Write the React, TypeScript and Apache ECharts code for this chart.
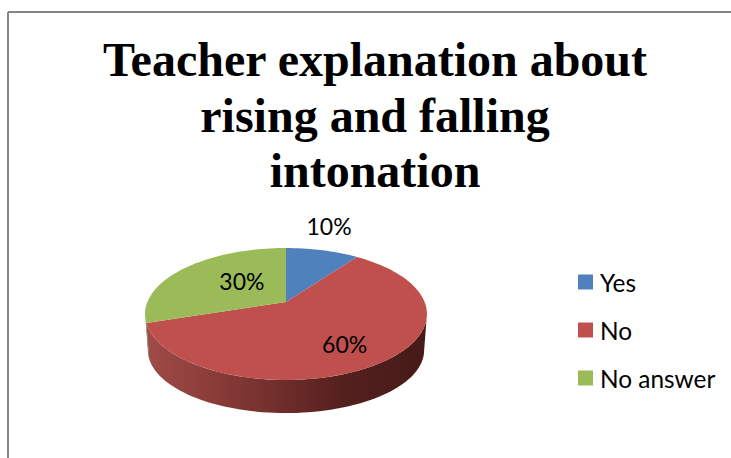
import React, { useEffect, useRef } from "react";
import * as echarts from "echarts";

const titleLines = ["Teacher explanation about", "rising and falling", "intonation"];
const categories = ["Yes", "No", "No answer"];
const percentValues = [10, 60, 30];
const sliceColors = ["#4f81bd", "#c0504d", "#9bbb59"];

// Perspective projection of the pie's disc onto the page
const APEX_X = 286;
const APEX_Y = 302;
const SCALE_X = 138.6;
const SCALE_Y = 63.8;
const TILT = 0.1818;
const WALL_SX = 0.98;
const WALL_SY = 0.95;
const WALL_DY = 37;
const LABEL_RADIUS = [1.5, 0.72, 0.45];
const LABEL_NUDGE = [[-8, -4], [-7, 0], [4, -5]];
const FONT = "Lato, Carlito, Calibri, sans-serif";

const project = (deg: number, r = 1) => {
  const t = (deg * Math.PI) / 180;
  const u = r * Math.sin(t);
  const v = r * Math.cos(t);
  const d = 1 + TILT * v;
  return [(SCALE_X * u) / d, (-SCALE_Y * v) / d];
};
const top = (deg: number) => {
  const [x, y] = project(deg);
  return [APEX_X + x, APEX_Y + y];
};
const bottom = (deg: number) => {
  const [x, y] = project(deg);
  return [APEX_X + x * WALL_SX, APEX_Y + y * WALL_SY + WALL_DY];
};
const arcAngles = (a: number, b: number) => {
  const out: number[] = [];
  const n = Math.max(2, Math.ceil((b - a) / 2));
  for (let i = 0; i <= n; i++) out.push(a + ((b - a) * i) / n);
  return out;
};

const total = percentValues.reduce((s, v) => s + v, 0);
const FRONT_START = (Math.acos(-TILT) * 180) / Math.PI;
const FRONT_END = 360 - FRONT_START;

const wallFill = (i: number) =>
  new echarts.graphic.LinearGradient(0, 0, 1, 0, i === 1
    ? [
        { offset: 0, color: "#a04b48" },
        { offset: 0.3, color: "#843835" },
        { offset: 0.7, color: "#54201e" },
        { offset: 1, color: "#451a18" },
      ]
    : [
        { offset: 0, color: "#6f8740" },
        { offset: 1, color: "#4f6030" },
      ]);

const makeSeries = (i: number) => ({
  type: "custom",
  name: categories[i],
  coordinateSystem: "none",
  itemStyle: { color: sliceColors[i] },
  z: 2,
  data: [[percentValues[i], percentValues.slice(0, i).reduce((s, v) => s + v, 0)]],
  renderItem: (_p: any, api: any) => {
    const value = api.value(0);
    const before = api.value(1);
    const start = (before / total) * 360;
    const end = ((before + value) / total) * 360;
    const children: any[] = [];
    const a = Math.max(start, FRONT_START);
    const b = Math.min(end, FRONT_END);
    if (b > a) {
      const angs = arcAngles(a, b);
      children.push({
        type: "polygon",
        shape: { points: [...angs.map(top), ...angs.slice().reverse().map(bottom)] },
        style: { fill: wallFill(i) },
      });
    }
    children.push({
      type: "polygon",
      shape: { points: [[APEX_X, APEX_Y], ...arcAngles(start, end).map(top)] },
      style: { fill: sliceColors[i] },
      z2: 5,
    });
    const [lx, ly] = project((start + end) / 2, LABEL_RADIUS[i]);
    children.push({
      type: "text",
      x: APEX_X + lx + LABEL_NUDGE[i][0],
      y: APEX_Y + ly + LABEL_NUDGE[i][1],
      style: {
        text: `${value}%`,
        font: `23px ${FONT}`,
        fill: "#000",
        align: "center",
        verticalAlign: "middle",
      },
      z2: 10,
    });
    return { type: "group", children };
  },
});

export default function App() {
  const ref = useRef<HTMLDivElement>(null);
  useEffect(() => {
    const chart = echarts.init(ref.current!, undefined, { renderer: "svg" });
    chart.setOption({
      animation: false,
      backgroundColor: "#fff",
      title: {
        text: titleLines.join("\n"),
        left: 370,
        top: 27,
        textAlign: "center",
        textStyle: {
          fontFamily: "'Liberation Serif', serif",
          fontWeight: "bold",
          fontSize: 48,
          lineHeight: 55.5,
          color: "#000",
        },
      },
      legend: {
        orient: "vertical",
        left: 573,
        top: 265,
        itemWidth: 15,
        itemHeight: 15,
        itemGap: 24,
        icon: "rect",
        data: categories,
        textStyle: { fontFamily: FONT, fontSize: 24.4, color: "#000", padding: [0, 0, 0, 2] },
      },
      series: categories.map((_, i) => makeSeries(i)),
      graphic: [
        { type: "line", shape: { x1: 8, y1: 12, x2: 731, y2: 12 }, style: { stroke: "#868686", lineWidth: 2 } },
        { type: "line", shape: { x1: 8, y1: 12, x2: 8, y2: 458 }, style: { stroke: "#868686", lineWidth: 2 } },
      ],
    });
    return () => chart.dispose();
  }, []);
  return <div ref={ref} style={{ position: "fixed", left: 0, top: 0, width: 731, height: 458 }} />;
}
